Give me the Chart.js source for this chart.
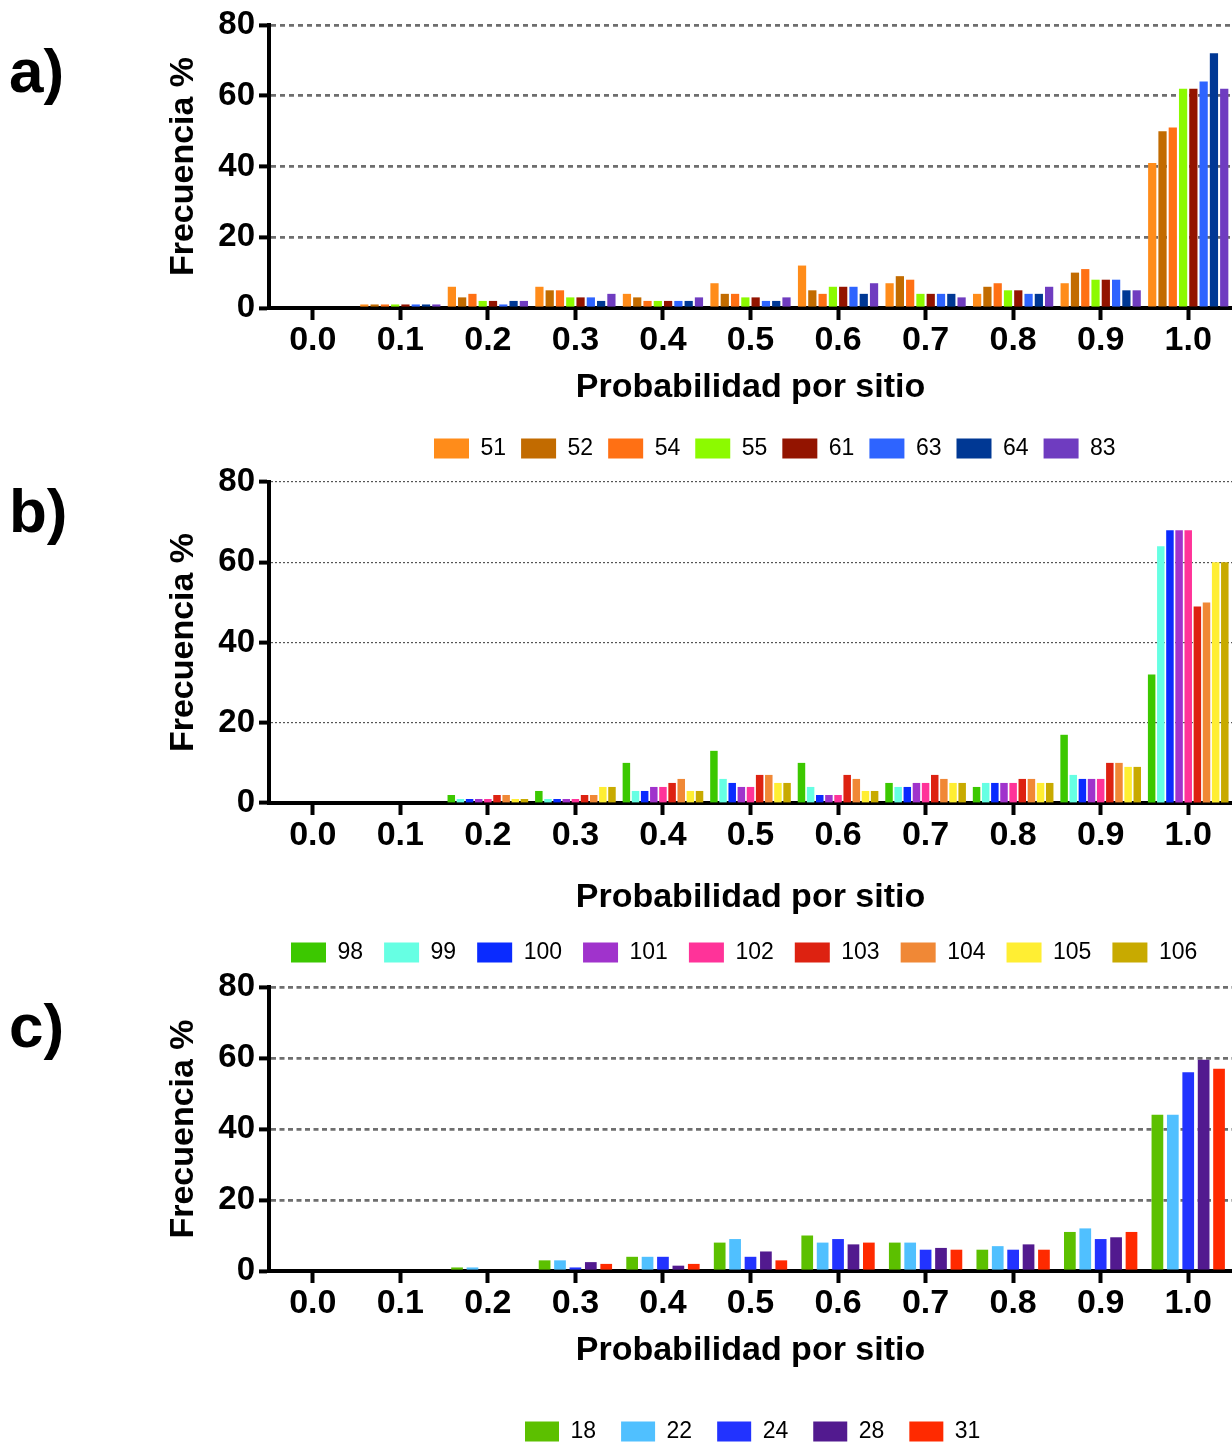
<!DOCTYPE html>
<html>
<head>
<meta charset="utf-8">
<script src="https://cdn.jsdelivr.net/npm/chart.js@4.4.1/dist/chart.umd.min.js"></script>
<style>
  body { margin: 0; width: 1232px; height: 1443px; overflow: hidden; position: relative; background: #fff; }
  canvas { position: absolute; left: 0; }
  .tag { position: absolute; left: 9px; font: bold 62px "Liberation Sans", Arial, sans-serif; line-height: 62px; color: #000; }
</style>
</head>
<body>
<div class="tag" style="top:40px">a)</div>
<div class="tag" style="top:480px">b)</div>
<div class="tag" style="top:995px">c)</div>
<canvas id="chartA" width="1232" height="470" style="top:0px"></canvas>
<canvas id="chartB" width="1232" height="542" style="top:432px"></canvas>
<canvas id="chartC" width="1232" height="516" style="top:937px"></canvas>
<script>
// Categories (probability per site)
const categories = ["0.0", "0.1", "0.2", "0.3", "0.4", "0.5", "0.6", "0.7", "0.8", "0.9", "1.0"];

// Panel a
const labelsA = ["51", "52", "54", "55", "61", "63", "64", "83"];
const colorsA = ["#FF8C1A", "#C26B00", "#FF7014", "#8CFA00", "#931400", "#2E64FF", "#003894", "#6F3CC0"];
const s51 = [0, 1, 6, 6, 4, 7, 12, 7, 4, 7, 41];
const s52 = [0, 1, 3, 5, 3, 4, 5, 9, 6, 10, 50];
const s54 = [0, 1, 4, 5, 2, 4, 4, 8, 7, 11, 51];
const s55 = [0, 1, 2, 3, 2, 3, 6, 4, 5, 8, 62];
const s61 = [0, 1, 2, 3, 2, 3, 6, 4, 5, 8, 62];
const s63 = [0, 1, 1, 3, 2, 2, 6, 4, 4, 8, 64];
const s64 = [0, 1, 2, 2, 2, 2, 4, 4, 4, 5, 72];
const s83 = [0, 1, 2, 4, 3, 3, 7, 3, 6, 5, 62];

// Panel b
const labelsB = ["98", "99", "100", "101", "102", "103", "104", "105", "106"];
const colorsB = ["#3CC800", "#66FFE3", "#0A2BFF", "#A033CC", "#FF3399", "#DD2211", "#F08836", "#FFEE33", "#C8AA00"];
const s98 = [0, 0, 2, 3, 10, 13, 10, 5, 4, 17, 32];
const s99 = [0, 0, 1, 1, 3, 6, 4, 4, 5, 7, 64];
const s100 = [0, 0, 1, 1, 3, 5, 2, 4, 5, 6, 68];
const s101 = [0, 0, 1, 1, 4, 4, 2, 5, 5, 6, 68];
const s102 = [0, 0, 1, 1, 4, 4, 2, 5, 5, 6, 68];
const s103 = [0, 0, 2, 2, 5, 7, 7, 7, 6, 10, 49];
const s104 = [0, 0, 2, 2, 6, 7, 6, 6, 6, 10, 50];
const s105 = [0, 0, 1, 4, 3, 5, 3, 5, 5, 9, 60];
const s106 = [0, 0, 1, 4, 3, 5, 3, 5, 5, 9, 60];

// Panel c
const labelsC = ["18", "22", "24", "28", "31"];
const colorsC = ["#5CC000", "#50C0FF", "#2233FF", "#521A8F", "#FF2A00"];
const s18 = [0, 0, 1, 3, 4, 8, 10, 8, 6, 11, 44];
const s22 = [0, 0, 1, 3, 4, 9, 8, 8, 7, 12, 44];
const s24 = [0, 0, 0, 1, 4, 4, 9, 6, 6, 9, 56];
const s28 = [0, 0, 0, 2.5, 1.5, 5.5, 7.5, 6.5, 7.5, 9.5, 59.5];
const s31 = [0, 0, 0, 2, 2, 3, 8, 6, 6, 11, 57];

const yTicks = [0, 20, 40, 60, 80];
const FONT = "'Liberation Sans', Arial, sans-serif";

// moves the legend so it starts where the original one does
const legendShift = {
    id: "legendShift",
    afterLayout(chart, args, opts) {
        chart.legend.left = opts.left;
        chart.legend.right = opts.left + 2000;
    }
};

function makeDatasets(labels, colors, series, barPct, catPct) {
    return labels.map((l, i) => ({
        label: l,
        data: series[i],
        backgroundColor: colors[i],
        borderWidth: 0,
        barPercentage: barPct,
        categoryPercentage: catPct
    }));
}

function makeChart(id, datasets, p) {
    const ctx = document.getElementById(id).getContext("2d");
    return new Chart(ctx, {
        type: "bar",
        data: { labels: categories, datasets },
        plugins: [legendShift],
        options: {
            responsive: false,
            animation: false,
            layout: { padding: { top: p.top, left: 0, right: 0, bottom: 0 } },
            plugins: {
                tooltip: { enabled: false },
                legendShift: { left: p.legendLeft },
                legend: {
                    position: "bottom",
                    align: "start",
                    labels: {
                        boxWidth: p.boxW,
                        boxHeight: 20,
                        padding: p.legendPad,
                        color: "#000",
                        font: { family: FONT, size: 23 }
                    }
                }
            },
            scales: {
                x: {
                    afterFit: s => { s.height = p.xHeight; },
                    grid: { offset: false, drawOnChartArea: false, tickLength: 12, tickWidth: 4, tickColor: "#000" },
                    border: { display: true, color: "#000", width: 4 },
                    ticks: { color: "#000", padding: 0, maxRotation: 0, autoSkip: false,
                             font: { family: FONT, size: 34, weight: "bold" } },
                    title: { display: true, text: "Probabilidad por sitio", color: "#000",
                             font: { family: FONT, size: 34, weight: "bold" },
                             padding: { top: 0, bottom: p.titlePad } }
                },
                y: {
                    min: 0, max: 80,
                    afterFit: s => { s.width = 269; },
                    afterBuildTicks: s => { s.ticks = yTicks.map(v => ({ value: v })); },
                    grid: {
                        color: c => c.tick.value === 0 ? "rgba(0,0,0,0)" : p.gridColor,
                        lineWidth: p.gridWidth,
                        tickLength: 10, tickWidth: 4, tickColor: "#000"
                    },
                    border: { display: true, color: "#000", width: 4, dash: p.gridDash },
                    ticks: { color: "#000", padding: 4, font: { family: FONT, size: 33, weight: "bold" } },
                    title: { display: true, text: "Frecuencia %", color: "#000",
                             font: { family: FONT, size: 34, weight: "bold" },
                             padding: { top: 163, bottom: 0 } }
                }
            }
        }
    });
}

makeChart("chartA",
    makeDatasets(labelsA, colorsA, [s51, s52, s54, s55, s61, s63, s64, s83], 0.8, 0.94),
    { top: 25, xHeight: 114, titlePad: 14, legendLeft: 419, legendPad: 15, boxW: 35,
      gridColor: "#6e6e6e", gridWidth: 2.8, gridDash: [5, 4] });

makeChart("chartB",
    makeDatasets(labelsB, colorsB, [s98, s99, s100, s101, s102, s103, s104, s105, s106], 0.82, 0.94),
    { top: 50, xHeight: 117, titlePad: 2, legendLeft: 270, legendPad: 21, boxW: 35,
      gridColor: "#555", gridWidth: 1.2, gridDash: [2, 2] });

makeChart("chartC",
    makeDatasets(labelsC, colorsC, [s18, s22, s24, s28, s31], 0.76, 0.88),
    { top: 50, xHeight: 124, titlePad: 24, legendLeft: 500, legendPad: 25, boxW: 34,
      gridColor: "#6e6e6e", gridWidth: 2.8, gridDash: [5, 3.5] });
</script>
</body>
</html>
